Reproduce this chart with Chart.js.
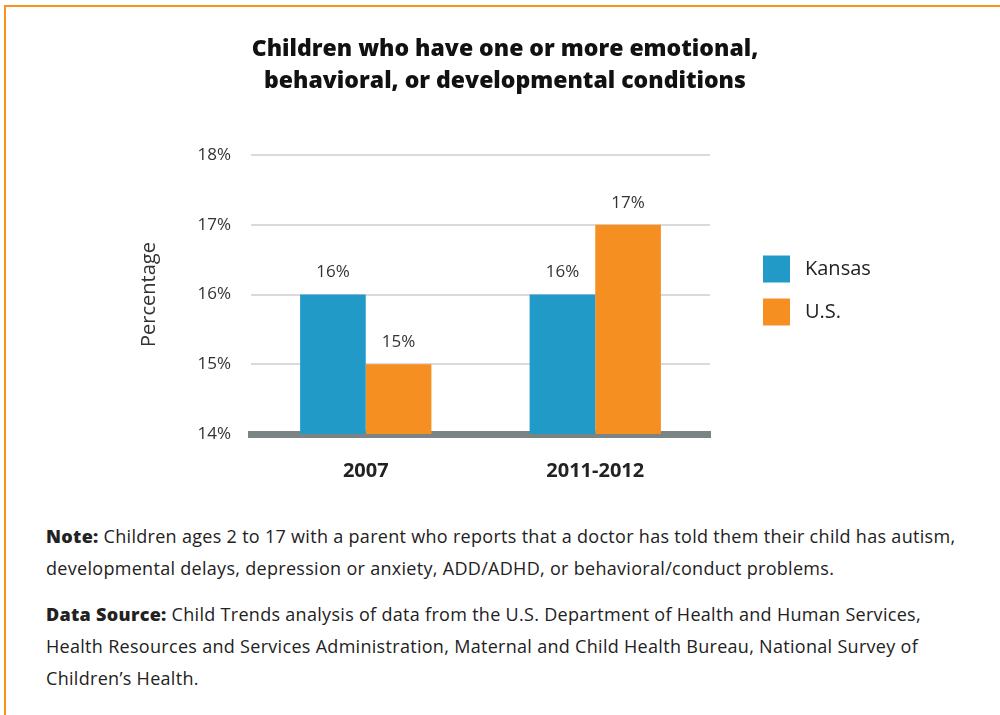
<!DOCTYPE html>
<html>
<head>
<meta charset="utf-8">
<script src="https://cdn.jsdelivr.net/npm/chart.js@4"></script>
<style>
  html, body { margin: 0; padding: 0; background: #fff; width: 1000px; height: 715px; overflow: hidden; }
  body { position: relative; font-family: "Open Sans", sans-serif; color: #222; }
  .frame { position: absolute; left: 4px; top: 5px; width: 1100px; height: 900px;
           border-top: 2px solid #F7941D; border-left: 2px solid #F7941D; }
  .title { position: absolute; left: 10px; width: 990px; top: 31px; text-align: center;
           font-size: 23px; font-weight: 800; line-height: 32px; color: #111; }
  .chart-box { position: absolute; left: 0; top: 0; width: 1000px; height: 500px; }
  .notes { position: absolute; left: 46px; top: 520px; width: 950px; font-size: 18px; line-height: 32px;
           color: #222; letter-spacing: 0.3px; white-space: nowrap; }
  .notes p { margin: 0 0 14px 0; }
  .notes b { font-weight: 800; }
</style>
</head>
<body>
<div class="frame"></div>
<div class="chart-box"><canvas id="chart" width="1000" height="500"></canvas></div>
<div class="title" id="title"></div>
<div class="notes">
  <p><b>Note:</b> Children ages 2 to 17 with a parent who reports that a doctor has told them their child has autism,<br>developmental delays, depression or anxiety, ADD/ADHD, or behavioral/conduct problems.</p>
  <p><b>Data Source:</b> Child Trends analysis of data from the U.S. Department of Health and Human Services,<br>Health Resources and Services Administration, Maternal and Child Health Bureau, National Survey of<br>Children’s Health.</p>
</div>
<script>
// Survey years and percentage of children with one or more conditions
const categories = ["2007", "2011-2012"];
const kansasValues = [16, 16];
const usValues = [15, 17];
const seriesNames = ["Kansas", "U.S."];
const yTicks = [14, 15, 16, 17, 18];
const titleLines = ["Children who have one or more emotional,", "behavioral, or developmental conditions"];

const FONT = "'Open Sans', sans-serif";

document.getElementById("title").innerHTML = titleLines.join("<br>");

// Value labels above each bar
const valueLabels = {
  id: "valueLabels",
  afterDatasetsDraw(chart) {
    const ctx = chart.ctx;
    ctx.save();
    ctx.font = "17px " + FONT;
    ctx.fillStyle = "#333";
    ctx.textAlign = "center";
    ctx.textBaseline = "middle";
    chart.data.datasets.forEach((ds, i) => {
      chart.getDatasetMeta(i).data.forEach((bar, j) => {
        ctx.fillText(ds.data[j] + "%", bar.x, bar.y - 22);
      });
    });
    ctx.restore();
  }
};

// Legend drawn to the right of the plot area
const sideLegend = {
  id: "sideLegend",
  afterDraw(chart) {
    const ctx = chart.ctx;
    const area = chart.chartArea;
    const box = 27, gap = 43;
    const n = chart.data.datasets.length;
    const x0 = area.right + 53;
    const yMid = (area.top + area.bottom) / 2 - 4;
    let y = yMid - ((n - 1) * gap + box) / 2;
    ctx.save();
    ctx.font = "20px " + FONT;
    ctx.textBaseline = "middle";
    chart.data.datasets.forEach((ds) => {
      ctx.fillStyle = ds.backgroundColor;
      ctx.fillRect(x0, y, box, box);
      ctx.fillStyle = "#222";
      ctx.fillText(ds.label, x0 + box + 15, y + box / 2);
      y += gap;
    });
    ctx.restore();
  }
};

new Chart(document.getElementById("chart"), {
  type: "bar",
  data: {
    labels: categories,
    datasets: [
      { label: seriesNames[0], data: kansasValues, backgroundColor: "#229AC8" },
      { label: seriesNames[1], data: usValues, backgroundColor: "#F68F21" }
    ]
  },
  options: {
    responsive: false,
    animation: false,
    devicePixelRatio: 1,
    layout: { padding: { left: 137, right: 290, top: 155, bottom: 0 } },
    datasets: { bar: { barPercentage: 1.0, categoryPercentage: 0.572 } },
    plugins: {
      legend: { display: false },
      tooltip: { enabled: false },
      title: { display: false }
    },
    scales: {
      x: {
        z: 1,
        afterFit(scale) { scale.height = 66; },
        grid: { display: false, drawTicks: false },
        border: { display: true, color: "#7B8485", width: 7 },
        ticks: { color: "#222", padding: 25, font: { family: FONT, size: 20, weight: "700" } }
      },
      y: {
        min: yTicks[0],
        max: yTicks[yTicks.length - 1],
        afterBuildTicks(scale) { scale.ticks = yTicks.map(v => ({ value: v })); },
        afterFit(scale) { scale.width = 114; },
        grid: { color: "#DADADA", lineWidth: 2, drawTicks: false },
        border: { display: false },
        ticks: { color: "#333", padding: 20, font: { family: FONT, size: 17 }, callback: v => v + "%" },
        title: { display: true, text: "Percentage", color: "#333", font: { family: FONT, size: 20 }, padding: { top: 0, bottom: 0 } }
      }
    }
  },
  plugins: [valueLabels, sideLegend]
});
</script>
</body>
</html>
